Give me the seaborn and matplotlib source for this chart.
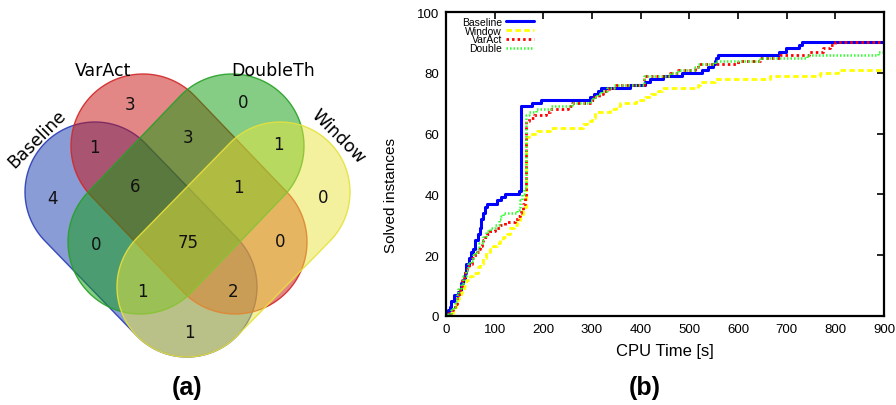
import numpy as np
import pandas as pd
import matplotlib
matplotlib.use('Agg')
import matplotlib.pyplot as plt
import seaborn as sns
from matplotlib.patches import Polygon

# (a) venn counts, region key = sets the region belongs to
set_names = ['Baseline', 'VarAct', 'DoubleTh', 'Window']
region_counts = {
    'B': 4, 'V': 3, 'D': 0, 'W': 0,
    'BV': 1, 'VD': 3, 'DW': 1, 'BD': 0, 'VW': 0, 'BW': 1,
    'BVD': 6, 'VDW': 1, 'BDW': 1, 'BVW': 2, 'BVDW': 75,
}

# (b) solved instances over cpu time (step curves)
solvers = ['Baseline', 'Window', 'VarAct', 'Double']

baseline_t = [0, 4, 8, 11, 16, 25, 30, 35, 39, 42, 48, 51, 56, 60, 66, 70, 71, 76, 80, 84,
              104, 112, 121, 150, 154, 176, 196, 296, 305, 312, 318, 378, 409, 419, 446,
              485, 526, 538, 548, 552, 555, 559, 684, 698, 725, 732, 900]
baseline_n = [0, 2, 3, 5, 7, 8, 11, 12, 14, 17, 19, 21, 22, 25, 27, 29, 32, 34, 36, 37,
              38, 39, 40, 41, 69, 70, 71, 72, 73, 74, 75, 76, 77, 78, 79,
              80, 81, 82, 83, 84, 85, 86, 87, 88, 89, 90, 90]

window_t = [0, 10, 15, 20, 25, 30, 38, 42, 50, 56, 65, 70, 76, 83, 90, 97, 104, 111, 118, 125,
            132, 140, 146, 152, 158, 162, 165, 170, 186, 213, 282, 289, 299, 306, 337, 350,
            357, 391, 408, 422, 436, 443, 518, 521, 552, 665, 768, 805, 900]
window_n = [0, 1, 2, 4, 6, 8, 10, 12, 13, 14, 16, 17, 19, 21, 22, 23, 24, 25, 26, 27,
            29, 30, 31, 33, 35, 36, 59, 60, 61, 62, 63, 64, 65, 67, 68, 69,
            70, 71, 72, 73, 74, 75, 76, 77, 78, 79, 80, 81, 81]

varact_t = [0, 6, 10, 15, 19, 22, 26, 29, 33, 36, 40, 43, 48, 53, 58, 63, 67, 70, 74, 77,
            81, 84, 90, 100, 111, 121, 142, 148, 152, 155, 158, 162, 164, 170, 180, 206, 213,
            251, 258, 300, 305, 315, 322, 335, 350, 407, 460, 477, 511, 517, 600, 645, 686,
            745, 775, 790, 800, 900]
varact_n = [0, 1, 2, 3, 4, 6, 8, 10, 12, 13, 15, 16, 17, 19, 20, 21, 22, 23, 24, 25,
            26, 27, 28, 29, 30, 31, 32, 33, 34, 35, 37, 39, 64, 65, 66, 67, 68,
            69, 70, 71, 72, 73, 74, 75, 76, 79, 80, 81, 82, 83, 84, 85, 86,
            87, 88, 89, 90, 90]

double_t = [0, 5, 10, 14, 18, 22, 25, 30, 35, 42, 46, 50, 55, 60, 63, 67, 73, 77, 82, 90,
            100, 108, 114, 118, 146, 150, 153, 156, 160, 164, 170, 185, 215, 258, 296, 302,
            310, 318, 330, 345, 407, 460, 477, 511, 517, 552, 645, 741, 887, 900]
double_n = [0, 1, 2, 3, 5, 7, 9, 11, 13, 15, 17, 18, 20, 21, 22, 24, 25, 26, 28, 29,
            30, 32, 33, 34, 35, 36, 38, 40, 42, 66, 67, 68, 69, 70, 71, 72,
            73, 74, 75, 76, 79, 80, 81, 82, 83, 84, 85, 86, 87, 87]


def capsule(p1, p2, r, n=80):
    # stadium shape between two cap centres
    p1 = np.array(p1, float)
    p2 = np.array(p2, float)
    d = p2 - p1
    ang = np.arctan2(d[1], d[0])
    a2 = np.linspace(ang - np.pi / 2, ang + np.pi / 2, n)
    a1 = np.linspace(ang + np.pi / 2, ang + 3 * np.pi / 2, n)
    return np.vstack([p2 + r * np.c_[np.cos(a2), np.sin(a2)],
                      p1 + r * np.c_[np.cos(a1), np.sin(a1)]])


sns.set_style('white')
plt.rcParams['font.family'] = ['DejaVu Sans']
plt.rcParams['text.color'] = 'black'
plt.rcParams['axes.labelcolor'] = 'black'
plt.rcParams['xtick.color'] = 'black'
plt.rcParams['ytick.color'] = 'black'

fig = plt.figure(figsize=(8.96, 4.06), dpi=100)

# ---------------- (a) venn ----------------
axv = fig.add_axes([0, 0, 420 / 896, 1])
axv.set_xlim(0, 420)
axv.set_ylim(406, 0)
axv.axis('off')

shapes = {
    'Baseline': ((95, 193), (187, 288), 70, (23, 59, 173), (40, 60, 180)),
    'VarAct': ((143, 147), (235, 243), 72, (201, 15, 15), (210, 40, 40)),
    'DoubleTh': ((232, 147), (140, 243), 72, (13, 157, 13), (40, 160, 40)),
    'Window': ((280, 193), (187, 288), 70, (233, 229, 61), (230, 225, 60)),
}
for name in set_names:
    p1, p2, r, fc, ec = shapes[name]
    fc = tuple(c / 255 for c in fc) + (0.5,)
    ec = tuple(c / 255 for c in ec) + (0.9,)
    axv.add_patch(Polygon(capsule(p1, p2, r), closed=True, facecolor=fc,
                          edgecolor=ec, lw=1.0))

name_pos = {'Baseline': (37, 139, 45), 'VarAct': (103, 71, 0),
            'DoubleTh': (273, 71, 0), 'Window': (338, 137, -45)}
for name in set_names:
    x, y, rot = name_pos[name]
    axv.text(x, y, name, fontsize=12.5, rotation=rot, ha='center', va='center',
             color='black')

label_pos = {
    'B': (52, 199), 'V': (130, 105), 'D': (243, 103), 'W': (323, 198),
    'BV': (94, 148), 'VD': (188, 138), 'DW': (278, 145), 'BD': (96, 245),
    'VW': (280, 242), 'BW': (189, 333),
    'BVD': (135, 187), 'VDW': (238, 188), 'BDW': (142, 292), 'BVW': (233, 292),
    'BVDW': (188, 243),
}
for key, val in region_counts.items():
    x, y = label_pos[key]
    axv.text(x, y, str(val), fontsize=12, ha='center', va='center', color='#111111')

# ---------------- (b) step curves ----------------
frames = []
for name, t, n in [('Baseline', baseline_t, baseline_n), ('Window', window_t, window_n),
                   ('VarAct', varact_t, varact_n), ('Double', double_t, double_n)]:
    frames.append(pd.DataFrame({'time': t, 'solved': n, 'solver': name}))
df = pd.concat(frames, ignore_index=True)

styles = {
    'Baseline': dict(color='#0000ff', lw=2.2, linestyle='-'),
    'Window': dict(color='#ffff00', lw=2.0, linestyle=(0, (2.0, 1.2))),
    'VarAct': dict(color='#ff0000', lw=2.0, linestyle=(0, (0.9, 1.1))),
    'Double': dict(color='#33ff33', lw=1.8, linestyle=(0, (0.6, 0.8))),
}

ax = fig.add_axes([446 / 896, 89 / 406, 438 / 896, 304 / 406])
for name in solvers:
    sub = df[df['solver'] == name]
    sns.lineplot(data=sub, x='time', y='solved', ax=ax, label=name,
                 drawstyle='steps-post', estimator=None, **styles[name])

ax.set_xlim(0, 900)
ax.set_ylim(0, 100)
ax.set_xticks(range(0, 901, 100))
ax.set_yticks(range(0, 101, 20))
for side in ['top', 'right', 'left', 'bottom']:
    ax.spines[side].set_visible(True)
    ax.spines[side].set_linewidth(1.6)
    ax.spines[side].set_color('black')
ax.tick_params(direction='in', top=True, right=True, length=5, width=1.2,
               labelsize=9.5, pad=5)
for lab in ax.get_xticklabels() + ax.get_yticklabels():
    lab.set_family('Liberation Sans')
ax.set_xlabel('CPU Time [s]', fontsize=12, family='Liberation Sans', labelpad=6)
ax.set_ylabel('Solved instances', fontsize=11, family='Liberation Sans')
ax.yaxis.set_label_coords(-0.11, 0.40)

leg = ax.legend(loc='upper left', bbox_to_anchor=(0.036, 0.985), markerfirst=False,
                frameon=False, prop={'family': 'Liberation Sans', 'size': 7.5},
                handlelength=2.7, handletextpad=0.4, labelspacing=-0.1,
                borderpad=0, borderaxespad=0)

fig.text(187 / 896, 1 - 388 / 406, '(a)', fontsize=18, fontweight='bold',
         family='Liberation Sans', ha='center', va='center')
fig.text(645 / 896, 1 - 388 / 406, '(b)', fontsize=18, fontweight='bold',
         family='Liberation Sans', ha='center', va='center')

fig.savefig('out.png', dpi=100)
